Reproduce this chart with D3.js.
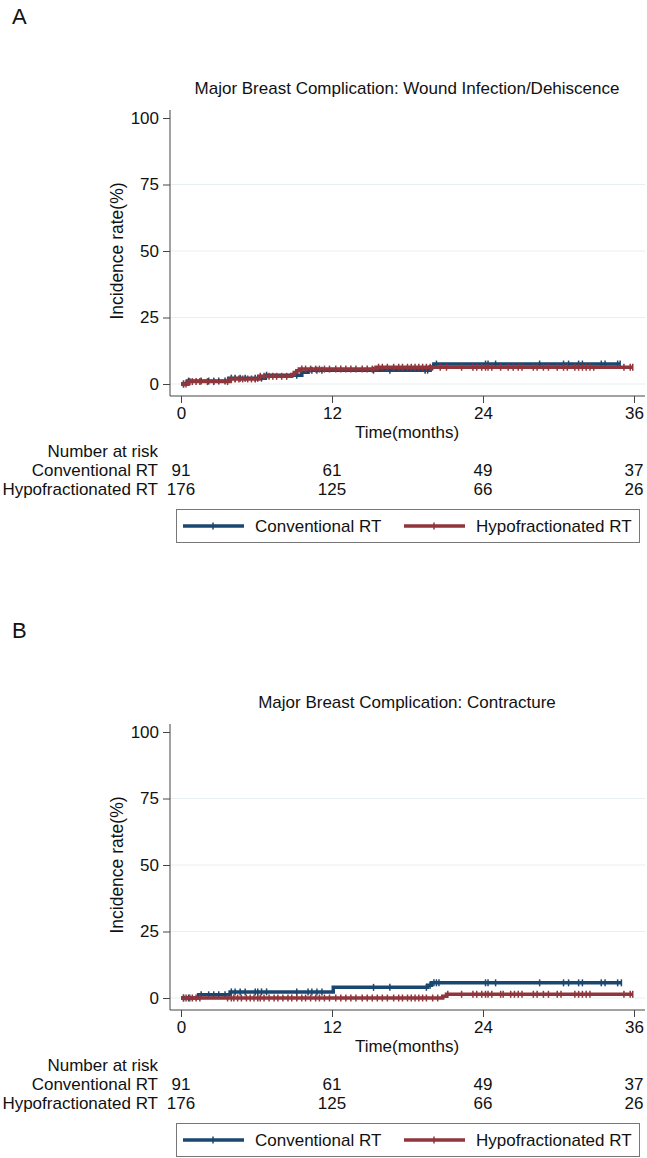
<!DOCTYPE html>
<html>
<head>
<meta charset="utf-8">
<script src="https://cdn.jsdelivr.net/npm/d3@7"></script>
<style>
  body { margin: 0; background: #fff; }
  text { font-family: "Liberation Sans", Arial, Helvetica, sans-serif; fill: #111; }
</style>
</head>
<body>
<div id="container"></div>
<script>
/* CONSTANTS AND GLOBALS */
const width = 647,
  height = 1158,
  blue = "#1a476f",
  red = "#90353b",
  fs = "17px";

/* DATA */
const panelLetters = ["A", "B"];
const titles = ["Major Breast Complication: Wound Infection/Dehiscence", "Major Breast Complication: Contracture"];
const groups = ["Conventional RT", "Hypofractionated RT"];
const xTicks = [0, 12, 24, 36];
const yTicks = [0, 25, 50, 75, 100];

const riskConvA = [91, 61, 49, 37];
const riskHypoA = [176, 125, 66, 26];
const riskConvB = [91, 61, 49, 37];
const riskHypoB = [176, 125, 66, 26];

// step curves: [month, cumulative incidence %]
const stepsConvA = [[0, 0], [0.5, 1.1], [3.8, 2.2], [6.7, 3.3], [9.6, 4.4], [10.1, 5.2], [19.8, 6.4], [20.1, 7.5], [34.9, 7.5]];
const stepsHypoA = [[0, 0], [0.6, 0.9], [3.9, 1.9], [6.2, 2.9], [8.8, 3.6], [9.0, 4.3], [9.2, 5.0], [9.4, 5.6], [15.5, 6.3], [35.9, 6.3]];
const stepsConvB = [[0, 0], [1.4, 1.2], [3.9, 2.3], [12.1, 4.0], [19.6, 4.8], [19.9, 5.7], [35.0, 5.7]];
const stepsHypoB = [[0, 0], [20.8, 0.7], [21.1, 1.4], [35.9, 1.4]];

// censoring times (months)
const censConvA = [0.2, 0.6, 1.6, 2.2, 2.6, 3.0, 3.5, 4.0, 4.3, 4.7, 5.1, 5.9, 6.1, 6.4, 6.8, 9.2, 10.4, 10.8, 11.2, 15.3, 16.6, 19.4, 19.6, 20.0, 20.3, 24.2, 24.4, 25.0, 28.5, 30.4, 30.8, 31.6, 31.9, 33.4, 33.7, 34.7, 34.9];
const censHypoA = [0.2, 0.4, 0.7, 0.9, 1.2, 1.5, 2.1, 2.6, 3.7, 4.0, 4.3, 4.6, 4.9, 5.3, 5.6, 5.9, 6.3, 6.6, 7.0, 7.3, 7.6, 8.0, 8.4, 9.6, 9.9, 10.3, 10.7, 11.0, 11.4, 11.8, 12.3, 12.7, 13.1, 13.5, 13.9, 14.4, 14.8, 15.2, 15.7, 16.0, 16.4, 16.9, 17.3, 17.6, 18.0, 18.3, 18.6, 18.9, 19.2, 19.5, 19.8, 20.6, 21.1, 22.3, 23.2, 23.5, 23.9, 24.2, 24.4, 24.7, 25.4, 26.0, 26.4, 26.8, 27.1, 28.0, 28.3, 28.8, 29.2, 29.9, 30.4, 30.7, 31.3, 31.6, 31.9, 32.2, 32.5, 32.8, 35.2, 35.7, 35.9];
const censConvB = [0.2, 0.6, 1.6, 2.2, 2.6, 3.0, 3.5, 4.0, 4.3, 4.7, 5.1, 5.9, 6.1, 6.4, 6.8, 9.2, 10.1, 10.4, 10.8, 11.2, 15.3, 16.6, 19.5, 19.8, 20.1, 20.3, 20.5, 24.2, 24.4, 25.0, 28.5, 30.4, 30.8, 31.6, 31.9, 33.4, 33.7, 34.7, 35.0];
const censHypoB = [0.2, 0.4, 0.7, 0.9, 1.2, 1.5, 3.7, 4.0, 4.2, 4.5, 4.8, 5.2, 5.5, 5.8, 6.1, 6.3, 6.6, 7.0, 7.4, 7.7, 8.1, 8.5, 8.8, 9.2, 9.6, 9.9, 10.3, 10.7, 11.0, 11.4, 11.8, 12.3, 12.7, 13.1, 13.5, 13.9, 14.4, 14.8, 15.2, 15.6, 16.0, 16.4, 16.9, 17.3, 17.6, 18.0, 18.3, 18.6, 18.9, 19.2, 19.5, 20.0, 20.4, 21.2, 22.3, 23.2, 23.5, 23.9, 24.2, 24.4, 24.7, 25.4, 25.6, 26.2, 26.5, 26.8, 27.1, 28.0, 28.3, 28.8, 29.2, 29.9, 30.2, 31.3, 31.6, 31.9, 32.2, 32.5, 35.2, 35.7, 35.9];

const panels = [
  { letter: panelLetters[0], title: titles[0], risk: [riskConvA, riskHypoA], steps: [stepsConvA, stepsHypoA], cens: [censConvA, censHypoA] },
  { letter: panelLetters[1], title: titles[1], risk: [riskConvB, riskHypoB], steps: [stepsConvB, stepsHypoB], cens: [censConvB, censHypoB] }
];
const colors = [blue, red];
const offsets = [0, 614];

const svg = d3.select("#container")
  .append("svg")
  .attr("width", width)
  .attr("height", height)
  .style("background-color", "white");

/* SCALES */
const xScale = d3.scaleLinear().domain([0, 36]).range([181, 634]);

function valueAt(steps, t) {
  let v = 0;
  steps.forEach(s => { if (s[0] <= t) v = s[1]; });
  return v;
}

panels.forEach((p, i) => {
  const o = offsets[i];
  const g = svg.append("g").attr("transform", `translate(0,${o})`);
  const yScale = d3.scaleLinear().domain([0, 100]).range([384, 118]);

  g.append("text").attr("x", 12).attr("y", 24).style("font-size", "22px").text(p.letter);
  g.append("text").attr("x", 407).attr("y", 94).attr("text-anchor", "middle")
    .style("font-size", fs).text(p.title);

  // grid
  g.selectAll(".grid")
    .data(yTicks.filter(d => d < 100))
    .join("line")
    .attr("class", "grid")
    .attr("x1", 171).attr("x2", 645)
    .attr("y1", d => yScale(d)).attr("y2", d => yScale(d))
    .attr("stroke", "#e6eff2").attr("stroke-width", 1);

  // axes
  const yAxis = g.append("g").attr("transform", "translate(170,0)")
    .call(d3.axisLeft(yScale).tickValues(yTicks).tickSize(7).tickPadding(4).tickSizeOuter(0));
  const xAxis = g.append("g").attr("transform", "translate(0,396)")
    .call(d3.axisBottom(xScale).tickValues(xTicks).tickSize(7).tickPadding(4).tickSizeOuter(0));
  [yAxis, xAxis].forEach(a => {
    a.select(".domain").remove();
    a.selectAll("line").attr("stroke", "#444");
    a.selectAll("text").style("font-size", fs).attr("fill", "#111");
  });
  g.append("line").attr("x1", 170).attr("x2", 170).attr("y1", 110).attr("y2", 396).attr("stroke", "#444");
  g.append("line").attr("x1", 170).attr("x2", 645).attr("y1", 396).attr("y2", 396).attr("stroke", "#444");

  g.append("text").attr("transform", "translate(123,251) rotate(-90)").attr("text-anchor", "middle")
    .style("font-size", "17.5px").text("Incidence rate(%)");
  g.append("text").attr("x", 407).attr("y", 438).attr("text-anchor", "middle")
    .style("font-size", fs).text("Time(months)");

  // curves
  const line = d3.line().x(d => xScale(d[0])).y(d => yScale(d[1])).curve(d3.curveStepAfter);
  p.steps.forEach((s, k) => {
    g.append("path").datum(s).attr("d", line)
      .attr("fill", "none").attr("stroke", colors[k]).attr("stroke-width", 3.5);
    g.selectAll(".cens" + k)
      .data(p.cens[k])
      .join("line")
      .attr("class", "cens" + k)
      .attr("x1", d => xScale(d)).attr("x2", d => xScale(d))
      .attr("y1", d => yScale(valueAt(s, d)) - 3.5)
      .attr("y2", d => yScale(valueAt(s, d)) + 3.5)
      .attr("stroke", colors[k]).attr("stroke-width", 1.5);
  });

  // number at risk
  g.append("text").attr("x", 158).attr("y", 457).attr("text-anchor", "end")
    .style("font-size", fs).text("Number at risk");
  groups.forEach((name, k) => {
    const yy = 476 + k * 19;
    g.append("text").attr("x", 158).attr("y", yy).attr("text-anchor", "end")
      .style("font-size", fs).text(name);
    g.selectAll(".risk" + k)
      .data(p.risk[k])
      .join("text")
      .attr("class", "risk" + k)
      .attr("x", (d, j) => xScale(xTicks[j]))
      .attr("y", yy)
      .attr("text-anchor", "middle")
      .style("font-size", fs)
      .text(d => d);
  });

  // legend
  g.append("rect").attr("x", 176.5).attr("y", 509.5).attr("width", 463).attr("height", 33)
    .attr("fill", "white").attr("stroke", "#777").attr("stroke-width", 1);
  const legX = [183, 404];
  groups.forEach((name, k) => {
    g.append("line").attr("x1", legX[k]).attr("x2", legX[k] + 61).attr("y1", 526).attr("y2", 526)
      .attr("stroke", colors[k]).attr("stroke-width", 3.5);
    g.append("line").attr("x1", legX[k] + 30).attr("x2", legX[k] + 30).attr("y1", 522.5).attr("y2", 529.5)
      .attr("stroke", colors[k]).attr("stroke-width", 1.5);
    g.append("text").attr("x", legX[k] + 72).attr("y", 532)
      .style("font-size", fs).text(name);
  });
});
</script>
</body>
</html>
